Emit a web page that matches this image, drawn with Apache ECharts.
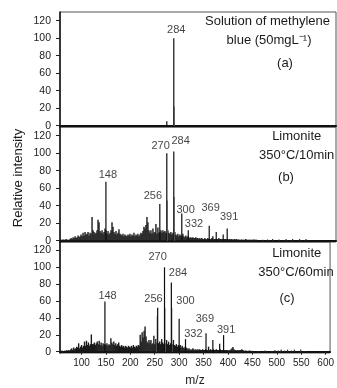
<!DOCTYPE html>
<html>
<head>
<meta charset="utf-8">
<title>m/z spectra</title>
<script src="https://cdn.jsdelivr.net/npm/echarts@6/dist/echarts.min.js"></script>
<style>
  html, body { margin: 0; padding: 0; background: #fff; }
  #main { width: 337px; height: 388px; }
</style>
</head>
<body>
<div id="main"></div>
<script>
// axis ranges and ticks
var xMin = 56, xMax = 609;
var xTicks = [100, 150, 200, 250, 300, 350, 400, 450, 500, 550, 600];
var yTicks = [0, 20, 40, 60, 80, 100, 120];

// background noise, one value every 2 m/z starting at 56
var noiseStart = 56, noiseStep = 2;
var noiseB = [
  1,1,1,1.5,1,1,2,1,1,1,2,
  3,2,4,3,5,3,4,6,4,5,
  7,5,9,6,10,7,8,10,6,9,8,
  27,12,10,8,9,12,24,21,11,9,12,8,10,14,
  12,
  8,11,7,9,12,21,16,10,8,11,7,9,13,8,7,6,8,5,7,6,5,7,6,8,5,7,
  6,9,5,7,6,8,5,7,9,8,11,16,14,
  18,27,21,12,9,12,8,14,9,10,19,8,15,9,
  10,
  12,9,12,10,11,9,7,12,9,8,10,7,9,6,10,7,6,8,5,7,6,
  5,8,5,4,6,4,5,4,3,4,3,4,3,3,4,3,3,2,3,2,3,2,2,3,2,2,
  3,2,2,2,3,5,2,2,2,2,2,3,2,2,2,2,2,2,2,2,2,1.5,2,1.5,2,1.5,1.5,2,1.5,2,
  1,1.5,1,1,1.5,1,1,1,2,1,1,1,1,1,1,1,1.5,1,1,1
];
var noiseC = [
  1,1,1.5,1,1,1.5,1,2,1,2,1.5,
  3,4,2,5,3,4,6,5,10,4,
  6,8,5,7,12,7,13,8,11,7,9,
  20.5,9,9,11,8,10,12,9,13,8,11,7,10,9,
  9,
  8,10,7,9,8,16,11,9,12,8,10,7,9,11,7,6,8,6,7,5,7,6,5,7,6,5,
  7,5,8,6,5,7,6,8,7,20,12,23,17,
  25,30,18,12,10,14,11,14,9,10,19,9,15,11,
  10,
  10,12,9,15,11,9,8,10,14,9,12,8,10,7,9,14,8,7,9,6,8,
  6,8,5,7,5,4,6,5,4,3,4,3,2,3,4,3,2,3,2,3,2,3,2,2,3,2,
  2,3,2,2,6,2,3,2,2,3,2,2,3,2,2,2,3,2,2,2,2,2,2,2,2,1.5,2,3,4,5.5,
  3,2,2,1.5,2,1.5,2,2,3,2,1.5,1,1.5,1,1,1,1.5,1,1,1
];

// small ticks past 450
var tailB = [[462,1],[472,1.5],[482,2],[495,1.5],[509,2],[522,2],[536,2],[549,2]];
var tailC = [[462,1],[476,1.5],[490,1],[496,2],[503,1.5],[509,2.5],[516,1.5],[522,2.5],[530,1.5],[536,2.5],[549,2.5],[556,1]];

// main peaks [m/z, intensity]
var peaksA = [[270,5],[284,100]];
var peaksB = [[148,67.5],[256,42],[270,100],[284,102],[300,31],[313,12],[355,17],[369,10],[383,7],[391,14]];
var peaksC = [[148,59.5],[256,52],[270,100],[284,82],[300,39],[313,15],[355,22],[369,14],[383,9.5],[391,19.7]];

// lighter neighbouring lines
var shoulderA = [[285,22]];
var shoulderB = [[271,46],[285,50]];
var shoulderC = [[255,42],[271,52],[285,52]];

// peak labels [m/z, intensity, text]
var labelsA = [[288.8,110,'284']];
var labelsB = [[152,75.4,'148'],[242,50.7,'256'],[257.5,108.6,'270'],[297.7,113.5,'284'],
               [307.8,34.8,'300'],[324.5,19,'332'],[357.7,37.9,'369'],[394.9,26.6,'391']];
var labelsC = [[153.4,65.9,'148'],[247.4,62.5,'256'],[256,112.5,'270'],[297.7,93.6,'284'],
               [313,60.2,'300'],[329,20.9,'332'],[352.6,39.4,'369'],[396.3,25.5,'391']];

// panel captions
var captionA = ['Solution of methylene', 'blue (50mgL\u207B\u00B9)', '(a)'];
var captionB = ['Limonite', '350\u00B0C/10min', '(b)'];
var captionC = ['Limonite', '350\u00B0C/60min', '(c)'];

var FONT = '"Liberation Sans", Arial, sans-serif';
var chart = echarts.init(document.getElementById('main'), null, { renderer: 'canvas' });

var gridTops = [12, 127, 242];
var grids = gridTops.map(function (t) {
  return { left: 60, right: 1, top: t, height: 115, show: true, borderColor: '#555', borderWidth: 1 };
});

function noiseData(arr) {
  return arr.map(function (v, i) { return [noiseStart + noiseStep * i, v]; });
}

var xAxes = [0, 1, 2].map(function (i) {
  var last = i === 2;
  return {
    type: 'value', gridIndex: i, min: xMin, max: xMax,
    splitLine: { show: false },
    axisLine: { show: true, lineStyle: { color: '#111', width: 2 } },
    axisTick: { show: last, length: 3, lineStyle: { color: '#222' }, customValues: xTicks },
    axisLabel: { show: last, customValues: xTicks, fontSize: 10, color: '#222', margin: 5, fontFamily: FONT },
    name: last ? 'm/z' : '', nameLocation: 'middle', nameGap: 22,
    nameTextStyle: { fontSize: 12, color: '#222', fontFamily: FONT }
  };
});

var yAxes = [0, 1, 2].map(function (i) {
  return {
    type: 'value', gridIndex: i, min: -1.5, max: 130,
    splitLine: { show: false },
    axisLine: { show: true, lineStyle: { color: '#111', width: 1.5 } },
    axisTick: { show: true, length: 4, lineStyle: { color: '#222' }, customValues: yTicks },
    axisLabel: { customValues: yTicks, fontSize: 10.5, color: '#222', margin: 9, fontFamily: FONT }
  };
});

function bars(data, i, color, w) {
  return {
    type: 'bar', xAxisIndex: i, yAxisIndex: i, data: data,
    barWidth: w || 1.2, barGap: '-100%', itemStyle: { color: color },
    silent: true, animation: false
  };
}
function labels(list, i) {
  return {
    type: 'scatter', xAxisIndex: i, yAxisIndex: i, symbolSize: 1,
    itemStyle: { color: 'rgba(0,0,0,0)' }, animation: false, silent: true,
    data: list.map(function (l) { return { value: [l[0], l[1]], name: l[2] }; }),
    label: { show: true, position: 'inside', formatter: '{b}', fontSize: 11, color: '#111', fontFamily: FONT }
  };
}

var series = [
  bars(shoulderA, 0, '#8c8c8c'),
  bars(peaksA, 0, '#0d0d0d'),
  labels(labelsA, 0),
  bars(noiseData(noiseB), 1, '#1a1a1a', 1.4),
  bars(tailB, 1, '#333'),
  bars(shoulderB, 1, '#8c8c8c'),
  bars(peaksB, 1, '#0d0d0d'),
  labels(labelsB, 1),
  bars(noiseData(noiseC), 2, '#1a1a1a', 1.4),
  bars(tailC, 2, '#333'),
  bars(shoulderC, 2, '#8c8c8c'),
  bars(peaksC, 2, '#0d0d0d'),
  labels(labelsC, 2)
];

function caption(lines, pos) {
  return lines.map(function (t, k) {
    return {
      type: 'text', x: pos[k][0], y: pos[k][1], silent: true,
      style: { text: t, fontSize: 13, fill: '#1a1a1a', fontFamily: FONT, align: 'center', verticalAlign: 'middle' }
    };
  });
}

var graphic = []
  .concat(caption(captionA, [[267.5, 21], [269, 40], [285, 63]]))
  .concat(caption(captionB, [[296.7, 136], [296.7, 155], [286, 177]]))
  .concat(caption(captionC, [[296.7, 253], [296, 272.5], [287, 298]]))
  .concat([{
    type: 'text', x: 18, y: 178, rotation: Math.PI / 2, silent: true,
    style: { text: 'Relative intensity', fontSize: 13, fill: '#1a1a1a', fontFamily: FONT, align: 'center', verticalAlign: 'middle' }
  }]);

chart.setOption({
  animation: false,
  backgroundColor: '#fff',
  grid: grids,
  xAxis: xAxes,
  yAxis: yAxes,
  series: series,
  graphic: graphic
});
</script>
</body>
</html>
